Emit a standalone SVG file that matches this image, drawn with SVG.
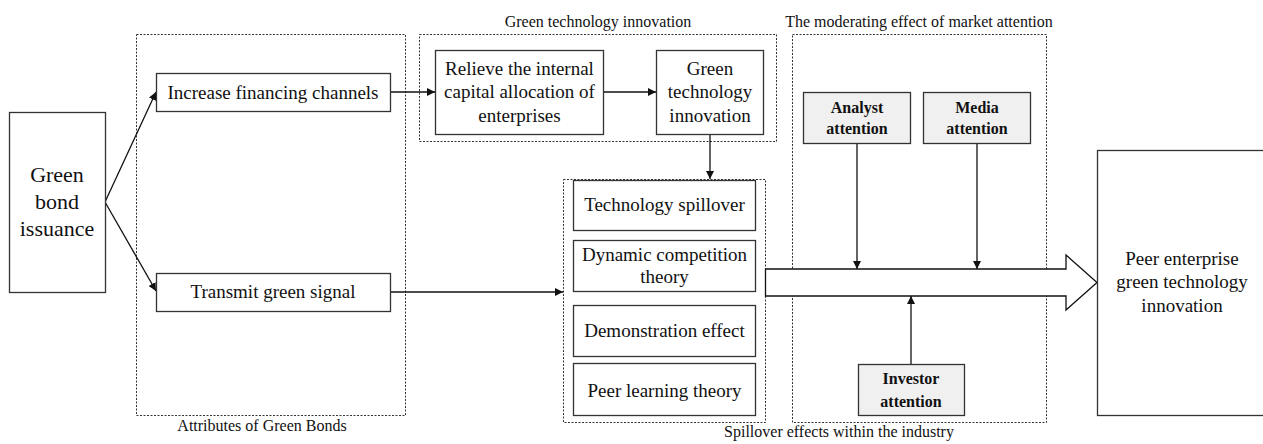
<svg xmlns="http://www.w3.org/2000/svg" width="1263" height="444" viewBox="0 0 1263 444">
  <style>
    .box { fill: #ffffff; stroke: #333333; stroke-width: 1.3; }
    .attn { fill: #f0f0f0; stroke: #333333; stroke-width: 1.3; }
    .group { fill: none; stroke: #333333; stroke-width: 1; stroke-dasharray: 2 1.5; }
    text { font-family: 'Liberation Serif', 'DejaVu Serif', serif; fill: #111111; text-anchor: middle; }
    .t { font-size: 19px; }
    .tb { font-size: 16px; font-weight: bold; }
    .cap { font-size: 16px; }
    .big { font-size: 22px; }
    .edge { fill: none; stroke: #111111; stroke-width: 1.3; }
  </style>
  <defs>
    <marker id="arrow" viewBox="0 0 10 10" refX="10" refY="5" markerWidth="8" markerHeight="8" markerUnits="userSpaceOnUse" orient="auto">
      <path d="M0,0 L10,5 L0,10 Z" fill="#111111"/>
    </marker>
  </defs>

  <rect width="1263" height="444" fill="#ffffff"/>

  <!-- grouping frames -->
  <g id="frames" font-family="Liberation Serif, serif">
    <rect class="group" x="136.5" y="34.5" width="269" height="381"/>
    <text class="cap" x="262" y="431">Attributes of Green Bonds</text>
    <rect class="group" x="419.5" y="34.5" width="357" height="107"/>
    <text class="cap" x="598" y="27">Green technology innovation</text>
    <rect class="group" x="563.5" y="179.5" width="202" height="243"/>
    <text class="cap" x="839" y="437">Spillover effects within the industry</text>
    <rect class="group" x="792.5" y="34.5" width="254" height="388"/>
    <text class="cap" x="919" y="27">The moderating effect of market attention</text>
  </g>

  <!-- connectors -->
  <g id="connectors">
    <path class="edge" d="M105,202 L156,92" marker-end="url(#arrow)"/>
    <path class="edge" d="M105,202 L156,291" marker-end="url(#arrow)"/>
    <path class="edge" d="M391,92 L435,92" marker-end="url(#arrow)"/>
    <path class="edge" d="M604,92 L656,92" marker-end="url(#arrow)"/>
    <path class="edge" d="M710,134 L710,179" marker-end="url(#arrow)"/>
    <path class="edge" d="M391,292 L563,292" marker-end="url(#arrow)"/>
    <!-- block arrow into peer enterprises -->
    <path d="M765.5,269 L1066,269 L1066,255 L1097,282.5 L1066,310 L1066,296 L765.5,296 Z" fill="#ffffff" stroke="#111111" stroke-width="1.3"/>
    <path class="edge" d="M857,144 L857,269" marker-end="url(#arrow)"/>
    <path class="edge" d="M977,144 L977,269" marker-end="url(#arrow)"/>
    <path class="edge" d="M911,364 L911,296" marker-end="url(#arrow)"/>
  </g>

  <g id="green-bond-issuance">
    <rect class="box" x="9.5" y="112.5" width="96" height="180"/>
    <text class="big" x="57" y="182">Green</text>
    <text class="big" x="57" y="209">bond</text>
    <text class="big" x="57" y="236">issuance</text>
  </g>

  <g id="increase-financing">
    <rect class="box" x="156.5" y="73.5" width="234" height="38"/>
    <text class="t" x="273" y="99">Increase financing channels</text>
  </g>

  <g id="transmit-signal">
    <rect class="box" x="156.5" y="273.5" width="234" height="38"/>
    <text class="t" x="273" y="298">Transmit green signal</text>
  </g>

  <g id="relieve-capital">
    <rect class="box" x="435.5" y="50.5" width="168" height="84"/>
    <text class="t" x="519.5" y="75">Relieve the internal</text>
    <text class="t" x="519.5" y="98">capital allocation of</text>
    <text class="t" x="519.5" y="122">enterprises</text>
  </g>

  <g id="green-tech-innovation">
    <rect class="box" x="656.5" y="50.5" width="107" height="84"/>
    <text class="t" x="710" y="75">Green</text>
    <text class="t" x="710" y="98">technology</text>
    <text class="t" x="710" y="122">innovation</text>
  </g>

  <g id="technology-spillover">
    <rect class="box" x="573.5" y="180.5" width="182" height="50"/>
    <text class="t" x="664.5" y="211">Technology spillover</text>
  </g>

  <g id="dynamic-competition">
    <rect class="box" x="573.5" y="240.5" width="182" height="51"/>
    <text class="t" x="664.5" y="261">Dynamic competition</text>
    <text class="t" x="664.5" y="283">theory</text>
  </g>

  <g id="demonstration-effect">
    <rect class="box" x="573.5" y="305.5" width="182" height="51"/>
    <text class="t" x="664.5" y="337">Demonstration effect</text>
  </g>

  <g id="peer-learning">
    <rect class="box" x="573.5" y="363.5" width="182" height="52"/>
    <text class="t" x="664.5" y="397">Peer learning theory</text>
  </g>

  <g id="analyst-attention">
    <rect class="attn" x="803.5" y="92.5" width="107" height="51"/>
    <text class="tb" x="857" y="113">Analyst</text>
    <text class="tb" x="857" y="134">attention</text>
  </g>

  <g id="media-attention">
    <rect class="attn" x="923.5" y="92.5" width="107" height="51"/>
    <text class="tb" x="977" y="113">Media</text>
    <text class="tb" x="977" y="134">attention</text>
  </g>

  <g id="investor-attention">
    <rect class="attn" x="858.5" y="364.5" width="106" height="51"/>
    <text class="tb" x="911" y="384">Investor</text>
    <text class="tb" x="911" y="407">attention</text>
  </g>

  <g id="peer-enterprise">
    <rect class="box" x="1097.5" y="150.5" width="170" height="265"/>
    <text class="t" x="1182" y="265">Peer enterprise</text>
    <text class="t" x="1182" y="288">green technology</text>
    <text class="t" x="1182" y="312">innovation</text>
  </g>
</svg>
